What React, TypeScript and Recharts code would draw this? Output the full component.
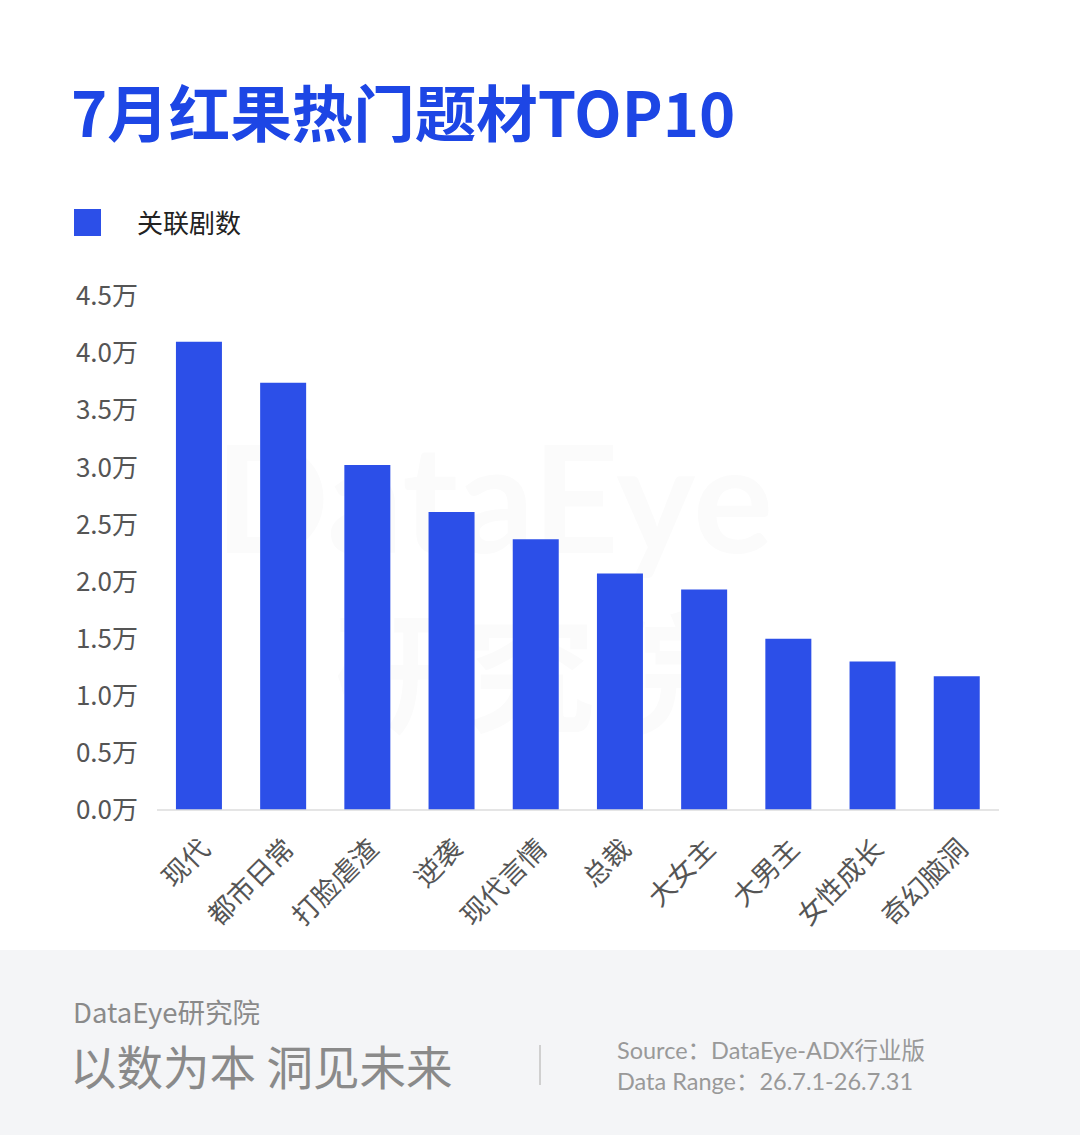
import React from "react"
import { BarChart, Bar, XAxis, YAxis } from "recharts"

const categories = ["现代", "都市日常", "打脸虐渣", "逆袭", "现代言情", "总裁", "大女主", "大男主", "女性成长", "奇幻脑洞"]
const dramaCounts = [41000, 37400, 30200, 26100, 23700, 20700, 19300, 15000, 13000, 11700]
const yTicks = [0, 5000, 10000, 15000, 20000, 25000, 30000, 35000, 40000, 45000]

const data = categories.map((name, i) => ({ name, count: dramaCounts[i] }))

const font = "'Noto Sans CJK SC', 'Noto Sans', sans-serif"

function CategoryTick(props: any) {
  const { x, y, payload } = props
  return (
    <g transform={`translate(${x + 6},${y + 26})`}>
      <text
        transform="rotate(-45)"
        textAnchor="end"
        dy="0.35em"
        fill="#555"
        fontSize={27}
        fontFamily={font}
      >
        {payload.value}
      </text>
    </g>
  )
}

export default function App() {
  return (
    <div style={{ position: "absolute", left: 0, top: 0, width: 1080, height: 1135, background: "#fff", fontFamily: font, overflow: "hidden" }}>
      <div style={{ position: "absolute", left: 71, top: 80, fontSize: 61.5, lineHeight: 1, fontWeight: 700, color: "#1d46e5" }}>
        7月红果热门题材TOP10
      </div>

      <div style={{ position: "absolute", left: 74, top: 209, width: 27, height: 27, background: "#2c4fe8" }} />
      <div style={{ position: "absolute", left: 137, top: 209, fontSize: 26, lineHeight: 1, color: "#222" }}>关联剧数</div>

      {/* faint watermark */}
      <div style={{ position: "absolute", left: 215, top: 420, height: 150, fontSize: 150, lineHeight: "150px", fontWeight: 700, fontFamily: "Lato, sans-serif", color: "#fbfbfb" }}>DataEye</div>
      <div style={{ position: "absolute", left: 335, top: 600, height: 130, fontSize: 130, lineHeight: "130px", fontWeight: 700, color: "#fbfbfb" }}>研究院</div>

      <div style={{ position: "absolute", left: 0, top: 260 }}>
        <BarChart width={1080} height={690} data={data} margin={{ top: 36, right: 81, bottom: 0, left: 0 }} barCategoryGap="22.5%">
          <XAxis
            dataKey="name"
            interval={0}
            height={140}
            tick={<CategoryTick />}
            tickLine={false}
            axisLine={{ stroke: "#dcdcdc", strokeWidth: 1.5 }}
          />
          <YAxis
            width={157}
            domain={[0, 45000]}
            ticks={yTicks}
            tickFormatter={(v: number) => `${(v / 10000).toFixed(1)}万`}
            tick={{ fill: "#555", fontSize: 26, fontFamily: font }}
            tickMargin={13}
            axisLine={false}
            tickLine={false}
          />
          <Bar dataKey="count" fill="#2c4fe8" isAnimationActive={false} />
        </BarChart>
      </div>

      <div style={{ position: "absolute", left: 0, top: 950, width: 1080, height: 185, background: "#f4f5f7" }}>
        <div style={{ position: "absolute", left: 73, top: 48, fontSize: 27.5, lineHeight: 1, color: "#8a8a8a" }}>DataEye研究院</div>
        <div style={{ position: "absolute", left: 70, top: 92, fontSize: 46.5, lineHeight: 1, color: "#8a8a8a" }}>以数为本 洞见未来</div>
        <div style={{ position: "absolute", left: 539, top: 95, width: 1.5, height: 40, background: "#d0d0d0" }} />
        <div style={{ position: "absolute", left: 617, top: 85, fontSize: 23.5, lineHeight: "31px", color: "#999", fontFamily: "Lato, 'Noto Sans CJK SC', sans-serif" }}>
          <div>Source：DataEye-ADX行业版</div>
          <div>Data Range：26.7.1-26.7.31</div>
        </div>
      </div>
    </div>
  )
}
